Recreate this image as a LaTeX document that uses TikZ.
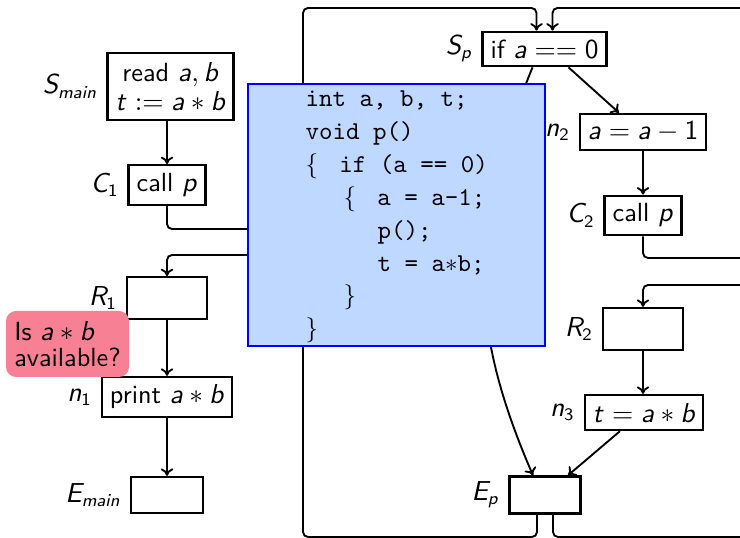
\documentclass[tikz,border=0pt]{standalone}
\usetikzlibrary{calc,arrows.meta}
\DeclareMathAlphabet{\mathsfit}{OT1}{cmss}{m}{sl}
\newcommand\mv[1]{\mathsfit{#1}}
\newcommand\mn[1]{\mathsf{#1}}
\definecolor{codefill}{RGB}{191,216,255}
\definecolor{codeline}{RGB}{0,0,255}
\definecolor{bubble}{RGB}{248,128,148}
\begin{document}
\begin{tikzpicture}[x=0.4pt,y=-0.4pt,
  every node/.style={font=\sffamily\fontsize{10.5}{10.5}\selectfont},
  blk/.style={draw,line width=0.9pt,align=center,inner sep=3.2pt},
  emptyblk/.style={blk,minimum width=32pt,minimum height=16.6pt},
  edge/.style={line width=0.75pt,-{To[length=3pt,width=5pt]},rounded corners=2pt},
  codetxt/.style={anchor=base west,inner sep=0pt,font=\ttfamily\fontsize{10.3}{10.5}\selectfont}]
\path[use as bounding box] (0,0) rectangle (740,538);
\clip (0,0) rectangle (740,538);

% main procedure
\node[blk,minimum height=26.8pt,font=\sffamily\fontsize{10.5}{11.8}\selectfont,label={[font=\sffamily\fontsize{10.5}{10.5}\selectfont]left:{$\mv{S}_{\mv{main}}$}}] (Smain) at (170.5,86.5)
  {read $\mv{a}, \mv{b}$\\$\mv{t} := \mv{a}\ast\mv{b}$};
\node[blk,label=left:{$\mv{C}_{\mn{1}}$}] (C1) at (167,185) {call $\mv{p}$};
\node[emptyblk,label=left:{$\mv{R}_{\mn{1}}$}] (R1) at (167,298) {};
\node[blk,label=left:{$\mv{n}_{\mn{1}}$}] (n1) at (167,397) {print $\mv{a}\ast\mv{b}$};
\node[blk,minimum width=28.8pt,minimum height=14.4pt,label=left:{$\mv{E}_{\mv{main}}$}] (Emain) at (167,495) {};

% procedure p
\node[blk,label=left:{$\mv{S}_{\mv{p}}$}] (Sp) at (544.5,49) {if $\mv{a} == \mn{0}$};
\node[blk,label=left:{$\mv{n}_{\mn{2}}$}] (n2) at (643,132) {$\mv{a} = \mv{a} - \mn{1}$};
\node[blk,label=left:{$\mv{C}_{\mn{2}}$}] (C2) at (643,215.5) {call $\mv{p}$};
\node[emptyblk,minimum height=16.8pt,label=left:{$\mv{R}_{\mn{2}}$}] (R2) at (643,329) {};
\node[blk,label=left:{$\mv{n}_{\mn{3}}$}] (n3) at (644,412.5) {$\mv{t} = \mv{a}\ast\mv{b}$};
\node[blk,minimum width=28.4pt,minimum height=14.8pt,label=left:{$\mv{E}_{\mv{p}}$}] (Ep) at (545,495) {};

% edges
\draw[edge] (C1.north |- Smain.south) -- (C1.north);
\draw[edge] (C1.south) |- (303,229) -- (303,8) -| ($(Sp.north)+(-8,0)$);
\draw[edge] (R1.south) -- (n1.north);
\draw[edge] (n1.south) -- (Emain.north);
\draw[edge] ($(Sp.south)+(24,0)$) -- ($(n2.north)+(-24,0)$);
\draw[edge] (n2.south) -- (n2.south |- C2.north);
\draw[edge] (C2.south) |- (750,258) -- (750,8) -| ($(Sp.north)+(8,0)$);
\draw[edge] (R2.south) -- (R2.south |- n3.north);
\draw[edge] ($(n3.south)+(-24,0)$) -- ($(Ep.north)+(23,0)$);
\draw[edge] ($(Sp.south)+(-12,0)$) .. controls +(-65,160) and +(-65,-150) .. ($(Ep.north)+(-12,0)$);
\draw[edge] ($(Ep.south)+(-8,0)$) |- (303,537) -- (303,255) -| (R1.north);
\draw[edge] ($(Ep.south)+(8,0)$) |- (750,537) -- (750,285) -| (R2.north);

% code box
\node[draw=codeline,fill=codefill,line width=0.8pt,minimum width=118.8pt,minimum height=104.8pt,inner sep=0pt] (code) at (396.5,215) {};
\node[codetxt] (l1) at (305,107) {int a, b, t;};
\node[codetxt] (l2) at (305,140) {void p()};
\node[codetxt] (l3) at (305,173) {$\{$\hspace{8.5pt}if (a == 0)};
\node[codetxt] (l4) at (343,206) {$\{$\hspace{8.5pt}a = a-1;};
\node[codetxt] (l5) at (377,239) {p();};
\node[codetxt] (l6) at (377,272) {t = a$*$b;};
\node[codetxt] (l7) at (343,304) {$\}$};
\node[codetxt] (l8) at (305,337) {$\}$};

% question bubble
\node[fill=bubble,rounded corners=4pt,minimum width=49.2pt,minimum height=26.4pt,align=left,inner sep=3pt,font=\sffamily\fontsize{10.5}{10.5}\selectfont] (q) at (67.5,344)
  {Is $\mv{a}\ast\mv{b}$\\available?};
\end{tikzpicture}
\end{document}
